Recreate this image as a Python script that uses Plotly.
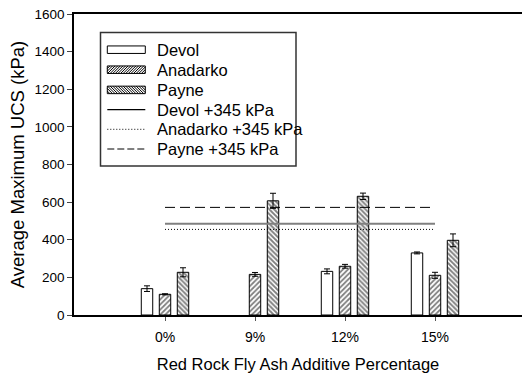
import plotly.graph_objects as go

# Fly ash additive levels (x categories)
categories = ["0%", "9%", "12%", "15%"]

# Average maximum UCS (kPa) per soil, with standard error
devol = [140, None, 232, 330]
devol_err = [15, None, 13, 5]
anadarko = [110, 216, 259, 211]
anadarko_err = [3, 10, 10, 16]
payne = [227, 607, 631, 397]
payne_err = [24, 40, 17, 34]

# Untreated strength + 345 kPa target lines
increment = 345
devol_target = devol[0] + increment
anadarko_target = anadarko[0] + increment
payne_target = payne[0] + increment

xpos = list(range(len(categories)))
W, H = 522, 373
L, R, T, B = 74, 0, 14, 58
PW, PH = W - L - R, H - T - B

bar_w = 0.127
step = 0.2
fig = go.Figure()

def add_bars(name, vals, errs, k, shape, size, solidity):
    fig.add_trace(go.Bar(
        x=xpos, y=vals, name=name, width=bar_w, offset=k * step - bar_w / 2,
        marker=dict(color="white", line=dict(color="black", width=1),
                    pattern=dict(shape=shape, fgcolor="black", bgcolor="white",
                                 size=size, solidity=solidity)),
        error_y=dict(type="data", array=errs, color="black", thickness=1, width=3),
        showlegend=False,
    ))

add_bars("Devol", devol, devol_err, -1, "", 4, 0.3)
add_bars("Anadarko", anadarko, anadarko_err, 0, "/", 3.6, 0.5)
add_bars("Payne", payne, payne_err, 1, "\\", 3.4, 0.55)

x_ends = [xpos[0], xpos[-1]]
fig.add_trace(go.Scatter(x=x_ends, y=[devol_target] * 2, mode="lines",
                         line=dict(color="#808080", width=2), showlegend=False))
fig.add_trace(go.Scatter(x=x_ends, y=[anadarko_target] * 2, mode="lines",
                         line=dict(color="black", width=1, dash="1px,2px"), showlegend=False))
fig.add_trace(go.Scatter(x=x_ends, y=[payne_target] * 2, mode="lines",
                         line=dict(color="black", width=1, dash="10px,5px"), showlegend=False))

# ---- hand-drawn legend box (pixel layout converted to paper coords) ----
def px(x):
    return (x - L) / PW

def py(y):
    return (T + PH - y) / PH

shapes = []
shapes.append(dict(type="rect", xref="paper", yref="paper",
                   x0=px(100.5), x1=px(296), y0=py(166), y1=py(32.5),
                   line=dict(color="#333333", width=1.5), fillcolor="white", layer="above"))

def hatch_path(w, h, s, direction):
    segs = []
    c = -h
    while c <= w:
        if direction == "/":
            x0 = max(0, c); y0 = x0 - c
            x1 = min(w, c + h); y1 = x1 - c
        else:
            x0 = max(0, c); y0 = h - (x0 - c)
            x1 = min(w, c + h); y1 = h - (x1 - c)
        if x1 > x0:
            segs.append(f"M{x0:.2f},{y0 - h/2:.2f}L{x1:.2f},{y1 - h/2:.2f}")
        c += s
    return "".join(segs)

icon_x0, icon_x1 = 107.3, 145.3
icon_h = 7.5
rows_y = [49.7, 69.7, 89.9, 109.6, 129.3, 149]
labels = ["Devol", "Anadarko", "Payne", "Devol +345 kPa",
          "Anadarko +345 kPa", "Payne +345 kPa"]

for i, yy in enumerate(rows_y[:3]):
    shapes.append(dict(type="rect", xref="paper", yref="paper",
                       x0=px(icon_x0), x1=px(icon_x1),
                       y0=py(yy + icon_h / 2), y1=py(yy - icon_h / 2),
                       line=dict(color="black", width=1), fillcolor="white", layer="above"))
    if i > 0:
        d = "/" if i == 1 else "\\"
        shapes.append(dict(type="path", xref="paper", yref="paper",
                           xsizemode="pixel", ysizemode="pixel",
                           xanchor=px(icon_x0), yanchor=py(yy),
                           path=hatch_path(icon_x1 - icon_x0, icon_h, 2.6, d),
                           line=dict(color="black", width=1), layer="above"))

line_styles = [dict(color="black", width=1.2),
               dict(color="black", width=1, dash="1px,2px"),
               dict(color="black", width=1, dash="7px,3px")]
for yy, st in zip(rows_y[3:], line_styles):
    shapes.append(dict(type="line", xref="paper", yref="paper",
                       x0=px(icon_x0), x1=px(icon_x1), y0=py(yy), y1=py(yy),
                       line=st, layer="above"))

annotations = []
for yy, lab in zip(rows_y, labels):
    annotations.append(dict(x=px(155), y=py(yy), xref="paper", yref="paper",
                            text=lab, showarrow=False, xanchor="left", yanchor="middle",
                            font=dict(size=16.5, color="black")))

x_lo = (L - (L + 91)) / 90
x_hi = x_lo + PW / 90

fig.update_layout(
    width=W, height=H, margin=dict(l=L, r=R, t=T, b=B),
    paper_bgcolor="white", plot_bgcolor="white",
    font=dict(family="Liberation Sans, Arial, sans-serif", color="black"),
    barmode="overlay", shapes=shapes, annotations=annotations,
    xaxis=dict(range=[x_lo, x_hi], tickvals=xpos, ticktext=categories,
               showgrid=False, zeroline=False, showline=True, mirror=True,
               linecolor="black", linewidth=1.5, ticks="outside", ticklen=4,
               tickcolor="#555555", tickfont=dict(size=14), ticklabelstandoff=4,
               title=dict(text="Red Rock Fly Ash Additive Percentage",
                          font=dict(size=16.5), standoff=15)),
    yaxis=dict(range=[0, 1600], dtick=200, showgrid=False, zeroline=False,
               showline=True, linecolor="black", linewidth=1.5,
               ticks="outside", ticklen=5, tickfont=dict(size=13.5),
               title=dict(text="Average Maximum UCS (kPa)",
                          font=dict(size=18.5), standoff=5)),
)

fig.write_html("out.html")
